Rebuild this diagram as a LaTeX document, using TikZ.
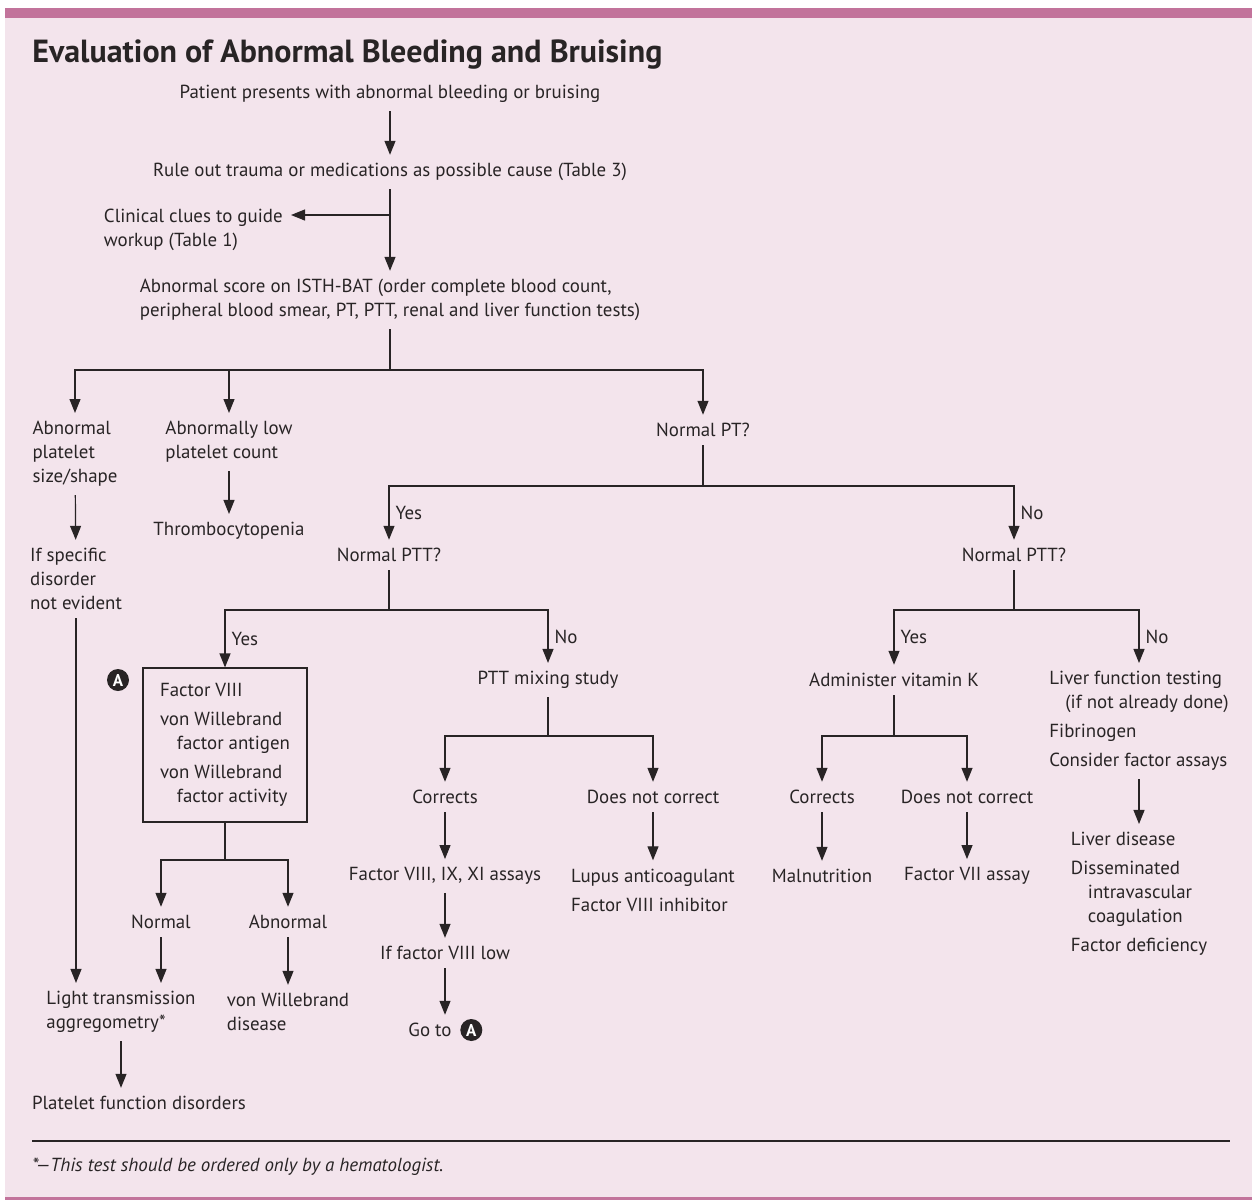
\documentclass[tikz,border=0pt]{standalone}
\usepackage{fontspec}
\setmainfont{PT Sans}
\usetikzlibrary{arrows.meta,positioning}
\definecolor{bgpink}{RGB}{243,228,236}
\definecolor{barpink}{RGB}{194,115,155}
\definecolor{ink}{RGB}{40,36,37}
\newcommand{\bodysize}{\fontsize{9.45}{12}\selectfont}

\begin{document}
\begin{tikzpicture}[x=0.5pt,y=-0.5pt,
    lbl/.style={inner xsep=0pt, inner ysep=4pt, font=\bodysize, text=ink, align=left},
    ln/.style={draw=ink, line width=0.6pt},
    arr/.style={ln, -{Triangle[length=7pt,width=5.5pt]}},
    yn/.style={lbl, right=3pt, inner ysep=0pt},
    markA/.style={circle, fill=ink, text=white, inner sep=0pt, minimum size=11pt,
        font=\bfseries\fontsize{8.5}{8.5}\selectfont},
    boxA/.style={lbl, draw=ink, line width=0.6pt, inner xsep=8pt,
        minimum width=82pt, minimum height=77pt}]
    \useasboundingbox (0,0) rectangle (1252,1200);
    \fill [bgpink] (5,8) rectangle (1252,1200);
    \fill [barpink] (5,8) rectangle (1252,18);
    \fill [barpink] (5,1197) rectangle (1252,1200);
    \node [anchor=base west, inner sep=0pt, text=ink, font=\bfseries\fontsize{16}{18}\selectfont] (title) at (32,62) {Evaluation of Abnormal Bleeding and Bruising};

    % top of the chart
    \node [lbl] (patient) at (390,94) {Patient presents with abnormal bleeding or bruising};
    \node [lbl] (rule) at (390,172) {Rule out trauma or medications as possible cause (Table 3)};
    \node [lbl, anchor=east] (clues) at (283,230) {Clinical clues to guide\\workup (Table 1)};
    \node [lbl] (score) at (390,300) {Abnormal score on ISTH-BAT (order complete blood count,\\peripheral blood smear, PT, PTT, renal and liver function tests)};
    \coordinate (c1) at (390,215);
    \coordinate (s1) at (390,370);

    % first row
    \node [lbl] (abn) at (75,454) {Abnormal\\platelet\\size/shape};
    \node [lbl] (low) at (229,442) {Abnormally low\\platelet count};
    \node [lbl] (npt) at (703,430) {Normal PT?};
    \node [lbl] (thr) at (229,531) {Thrombocytopenia};
    \node [lbl] (ifspec) at (76,579) {If specific\\disorder\\not evident};
    \node [lbl] (nptt1) at (389,555) {Normal PTT?};
    \node [lbl] (nptt2) at (1014,555) {Normal PTT?};
    \coordinate (b1) at (703,486);
    \coordinate (b2) at (389,610);
    \coordinate (b3) at (1014,610);

    % normal PT, normal PTT
    \node [boxA] (fbox) at (225,745) {Factor VIII\\[2.5pt]von Willebrand\\\hspace*{8.5pt}factor antigen\\[2.5pt]von Willebrand\\\hspace*{8.5pt}factor activity};
    \node [markA] (mA1) at (118,680) {A};
    \coordinate (b4) at (225,860);
    \node [lbl] (normal) at (161,922) {Normal};
    \node [lbl] (abnormal) at (288,922) {Abnormal};
    \node [lbl] (lta) at (121,1012) {Light transmission\\aggregometry*};
    \node [lbl] (vwd) at (288,1012) {von Willebrand\\disease};
    \node [lbl] (pfd) at (139,1103) {Platelet function disorders};

    % mixing study
    \node [lbl] (pms) at (548,680) {PTT mixing study};
    \coordinate (b5) at (548,736);
    \node [lbl] (corr1) at (445,797) {Corrects};
    \node [lbl] (dnc1) at (653,797) {Does not correct};
    \node [lbl] (f8) at (445,876) {Factor VIII, IX, XI assays};
    \node [lbl] (if8) at (445,953) {If factor VIII low};
    \node [lbl] (goto) at (430,1030) {Go to};
    \node [markA, right=4pt of goto] (mA2) {A};
    \node [lbl] (lupus) at (653,890) {Lupus anticoagulant\\[2.5pt]Factor VIII inhibitor};

    % abnormal PT
    \node [lbl] (vitk) at (894,680) {Administer vitamin K};
    \coordinate (b6) at (894,736);
    \node [lbl] (corr2) at (822,797) {Corrects};
    \node [lbl] (dnc2) at (967,797) {Does not correct};
    \node [lbl] (maln) at (822,876) {Malnutrition};
    \node [lbl] (f7) at (967,876) {Factor VII assay};
    \node [lbl] (liver) at (1139,721) {Liver function testing\\\hspace*{8pt}(if not already done)\\[2.5pt]Fibrinogen\\[2.5pt]Consider factor assays};
    \node [lbl] (ld) at (1139,894) {Liver disease\\[2.5pt]Disseminated\\\hspace*{8.5pt}intravascular\\\hspace*{8.5pt}coagulation\\[2.5pt]Factor deficiency};

    % connectors
    \draw [arr] (patient) -- (rule);
    \draw [arr] (rule) -- (score);
    \draw [arr, shorten >=4pt] (c1) -- (c1 -| clues.east);
    \draw [ln] (score) -- (s1);
    \draw [arr] (s1) -| (abn.north);
    \draw [arr] (s1) -| (low.north);
    \draw [arr] (s1) -| (npt.north);
    \draw [arr] (low) -- (thr);
    \draw [arr] (abn) -- (ifspec);
    \draw [ln] (npt) -- (b1);
    \draw [arr] (b1) -| node [yn, pos=0.75] {Yes} (nptt1.north);
    \draw [arr] (b1) -| node [yn, pos=0.75] {No} (nptt2.north);
    \draw [ln] (nptt1) -- (b2);
    \draw [arr] (b2) -| node [yn, pos=0.75] {Yes} (fbox.north);
    \draw [arr] (b2) -| node [yn, pos=0.75] {No} (pms.north);
    \draw [ln] (nptt2) -- (b3);
    \draw [arr] (b3) -| node [yn, pos=0.75] {Yes} (vitk.north);
    \draw [arr] (b3) -| node [yn, pos=0.75] {No} (liver.north);
    \draw [ln] (fbox) -- (b4);
    \draw [arr] (b4) -| (normal.north);
    \draw [arr] (b4) -| (abnormal.north);
    \draw [arr] (normal) -- (normal.south |- lta.north);
    \draw [arr] (abnormal) -- (vwd);
    \draw [arr] (ifspec) -- (ifspec.south |- lta.north);
    \draw [arr] (lta) -- (lta.south |- pfd.north);
    \draw [ln] (pms) -- (b5);
    \draw [arr] (b5) -| (corr1.north);
    \draw [arr] (b5) -| (dnc1.north);
    \draw [arr] (corr1) -- (f8);
    \draw [arr] (f8) -- (if8);
    \draw [arr] (if8) -- (if8.south |- goto.north);
    \draw [arr] (dnc1) -- (dnc1.south |- lupus.north);
    \draw [ln] (vitk) -- (b6);
    \draw [arr] (b6) -| (corr2.north);
    \draw [arr] (b6) -| (dnc2.north);
    \draw [arr] (corr2) -- (maln);
    \draw [arr] (dnc2) -- (f7);
    \draw [arr] (liver) -- (ld);

    % footnote
    \coordinate (f1) at (32,1141);
    \coordinate (f2) at (1230,1141);
    \draw [ln] (f1) -- (f2);
    \node [lbl, anchor=west, font=\itshape\bodysize] (note) at (32,1167) {*---This test should be ordered only by a hematologist.};
\end{tikzpicture}
\end{document}
